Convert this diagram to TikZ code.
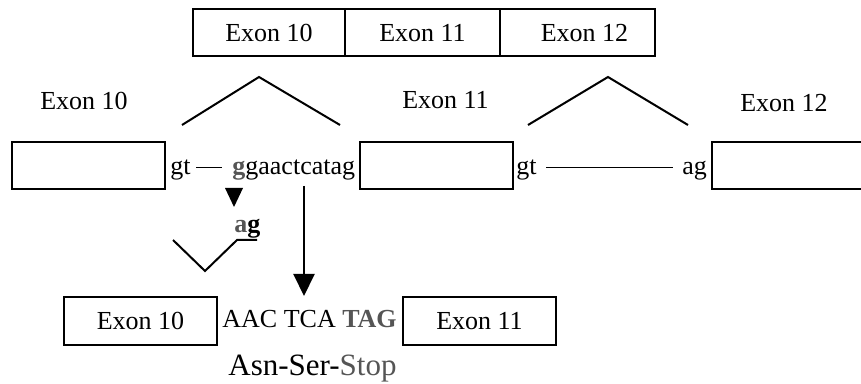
\documentclass[tikz,border=0pt]{standalone}
\usepackage{fontspec}
\setmainfont{Liberation Serif}
\usepackage{tikz}
\usetikzlibrary{arrows.meta}
\definecolor{mutgray}{RGB}{85,85,85}
\newcommand{\seqfont}{\fontsize{13}{15}\selectfont}
\newcommand{\protfont}{\fontsize{15.5}{18}\selectfont}

\begin{document}
\begin{tikzpicture}[x=0.5pt, y=-0.5pt,
		exonbox/.style={draw, line width=1pt, minimum height=23.5pt, inner sep=0pt, font=\seqfont},
		seqtext/.style={inner sep=0pt, anchor=base west, font=\seqfont},
		exonlabel/.style={inner sep=0pt, font=\seqfont},
		splice/.style={line width=1pt},
		intron/.style={line width=0.8pt}]
		\useasboundingbox (0,0) rectangle (861,384);
		\clip (0,0) rectangle (861,384);
		\node[exonbox, minimum width=76pt] (top10) at (269,33) {Exon 10};
		\node[exonbox, minimum width=77.5pt] (top11) at (422.5,33) {Exon 11};
		\node[exonbox, minimum width=77.5pt] (top12) at (577.5,33) {\hspace{7pt}Exon 12};
		\node[exonlabel] (lbl10) at (84,101) {Exon 10};
		\node[exonlabel] (lbl11) at (445.5,100) {Exon 11};
		\node[exonlabel] (lbl12) at (784,103) {Exon 12};
		\coordinate (apexL) at (259,77);
		\coordinate (footLa) at (182,125);
		\coordinate (footLb) at (340,125);
		\coordinate (apexR) at (608,77);
		\coordinate (footRa) at (528,125);
		\coordinate (footRb) at (688,125);
		\draw[splice] (footLa) -- (apexL) -- (footLb);
		\draw[splice] (footRa) -- (apexR) -- (footRb);
		\node[exonbox, minimum width=76.5pt] (box10) at (88.5,165.5) {};
		\node[exonbox, minimum width=76.5pt] (box11) at (436.5,165.5) {};
		\node[exonbox, minimum width=76.5pt] (box12) at (788.5,165.5) {};
		\node[seqtext] (gtL) at (170,175) {gt};
		\node[seqtext] (seqL) at (232,175) {\textbf{\textcolor{mutgray}{g}}gaactcatag};
		\draw[intron, shorten <=2.5pt, shorten >=5pt] ([yshift=3.75pt]gtL.base east) -- ([yshift=3.75pt]seqL.base west);
		\node[seqtext] (gtR) at (516,175) {gt};
		\node[seqtext] (agR) at (682,175) {ag};
		\draw[intron, shorten <=4.5pt, shorten >=4.5pt] ([yshift=3.75pt]gtR.base east) -- ([yshift=3.75pt]agR.base west);
		\fill (225,188) -- (243,188) -- (234,207) -- cycle;
		\node[seqtext] (agMut) at (234,233) {\textbf{\textcolor{mutgray}{a}g}};
		\coordinate (vLa) at (173,240);
		\coordinate (vLm) at (205,271);
		\coordinate (vLb) at (237,240);
		\coordinate (vLc) at (257,240);
		\draw[splice] (vLa) -- (vLm) -- (vLb) -- (vLc);
		\node[exonbox, minimum width=76.5pt, minimum height=24pt] (bot10) at (140.5,321) {Exon 10};
		\node[seqtext] (codons) at (222,328) {AAC TCA \textbf{\textcolor{mutgray}{TAG}}};
		\node[exonbox, minimum width=76.5pt, minimum height=24pt] (bot11) at (479.5,321) {Exon 11};
		\node[seqtext, font=\protfont] (prot) at (228,375) {Asn-Ser-\textcolor{mutgray}{Stop}};
		\coordinate (stopsrc) at (304,186);
		\draw[splice, -{Triangle[length=11pt, width=10.5pt]}] (stopsrc) -- (stopsrc |- bot10.north);
\end{tikzpicture}
\end{document}
